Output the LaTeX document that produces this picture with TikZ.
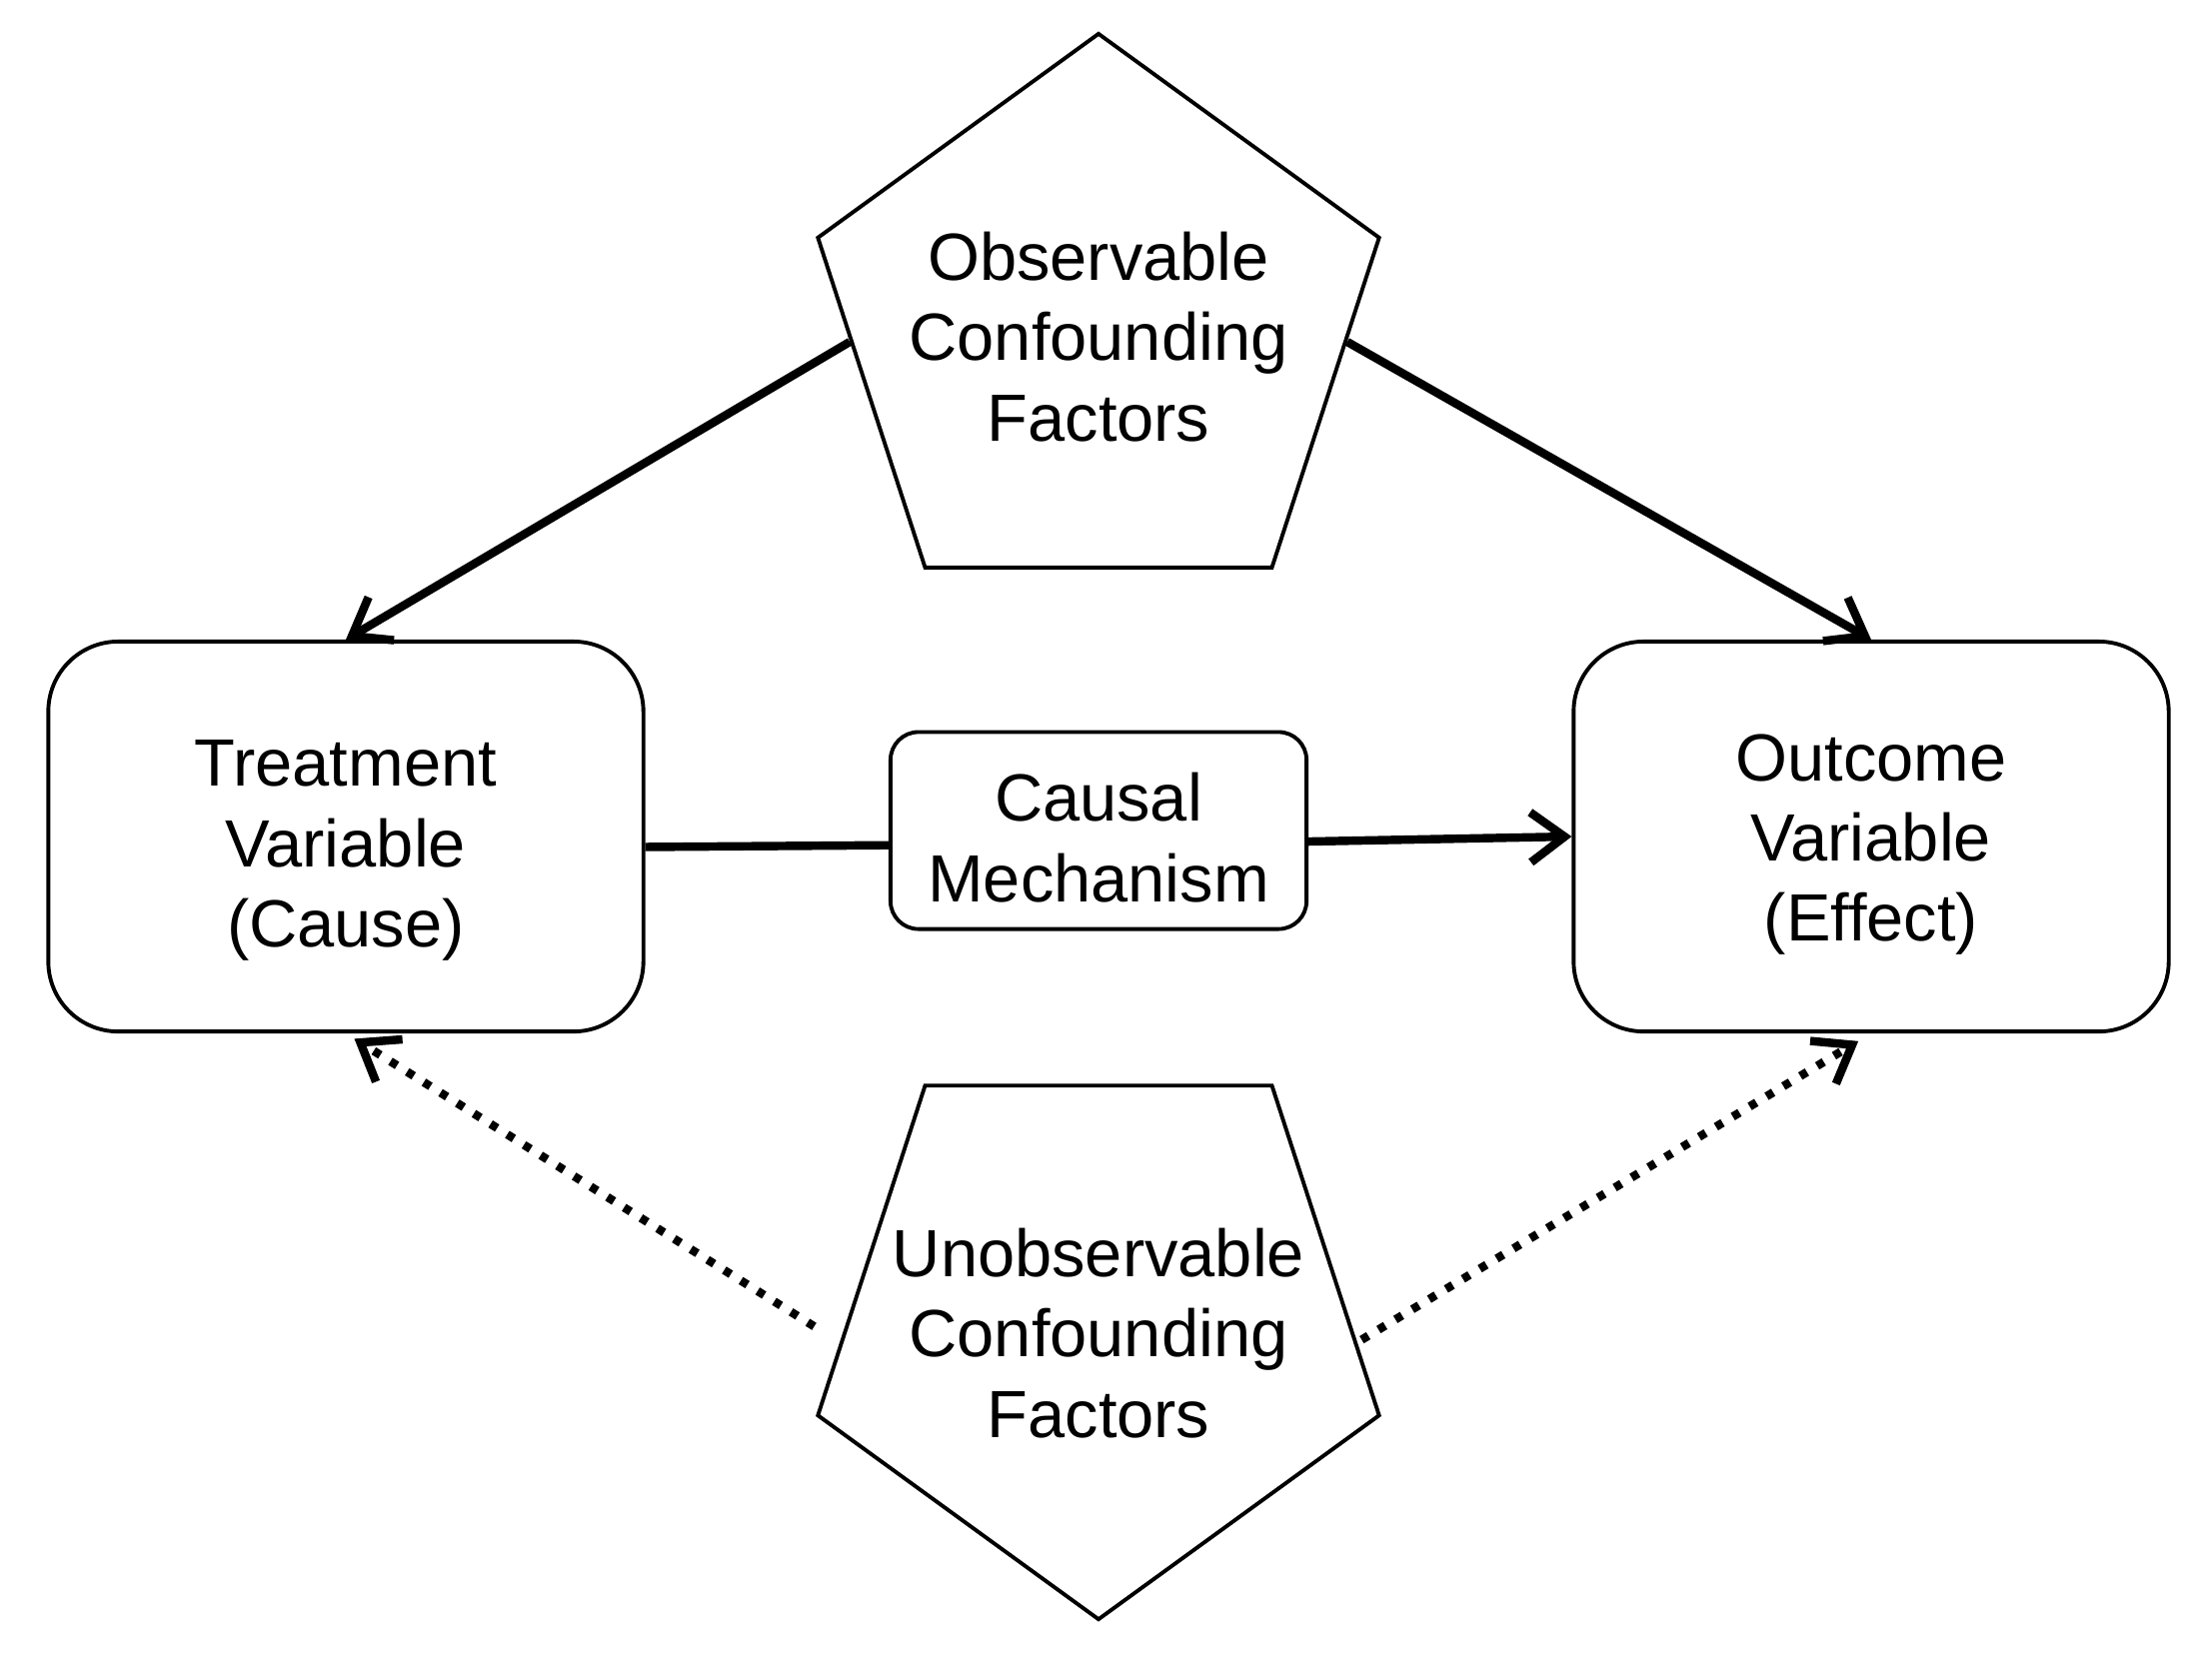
\documentclass[tikz,border=0pt]{standalone}
\usepackage{fontspec}
\setmainfont{Liberation Sans}
\usetikzlibrary{shapes.geometric,arrows.meta}

\begin{document}
\begin{tikzpicture}[x=0.01cm, y=-0.01cm,
    every node/.style={font=\fontsize{19}{22.8}\selectfont, align=center},
    varbox/.style={draw, line width=1.1pt, rounded corners=0.7cm, minimum width=5.95cm, minimum height=3.9cm},
    mechbox/.style={draw, line width=1.1pt, rounded corners=0.28cm, minimum width=4.16cm, minimum height=1.97cm},
    penta/.style={draw, line width=1.1pt, regular polygon, regular polygon sides=5, minimum size=5.9cm, inner sep=0pt},
    arr/.style={line width=2.4pt, -{Straight Barb[length=3.4mm,width=5mm,line width=2.4pt]}},
    dotarr/.style={arr, dash pattern=on 2.2pt off 3.4pt}]
      \useasboundingbox (0,0) rectangle (2213,1659);
      \node[varbox] (treat) at (346,837) {};
      \node (treattext) at (346,851) {Treatment\\Variable\\(Cause)};
      \node[varbox] (outcome) at (1872,837) {};
      \node (outcometext) at (1872,845) {Outcome\\Variable\\(Effect)};
      \node[mechbox] (mech) at (1099,831) {};
      \node (mechtext) at (1099,838) {Causal\\Mechanism};
      \node[penta] (obs) at (1099,329) {};
      \node (obstext) at (1099,337) {Observable\\Confounding\\Factors};
      \node[penta, shape border rotate=180] (unobs) at (1099,1325) {};
      \node (unobstext) at (1099,1334) {Unobservable\\Confounding\\Factors};
      \draw[arr] (obs.183) -- (treat.north);
      \draw[arr] (obs.357) -- (outcome.north);
      \draw[line width=2.4pt] (treat.358) -- (mech.184);
      \draw[arr] (mech.357) -- (outcome.west);
      \draw[dotarr, shorten <=0.3cm, shorten >=0.1cm] (unobs.184) -- (treat.south);
      \draw[dotarr, shorten <=0.05cm, shorten >=0.15cm] (unobs.356) -- (outcome.south);
\end{tikzpicture}
\end{document}
